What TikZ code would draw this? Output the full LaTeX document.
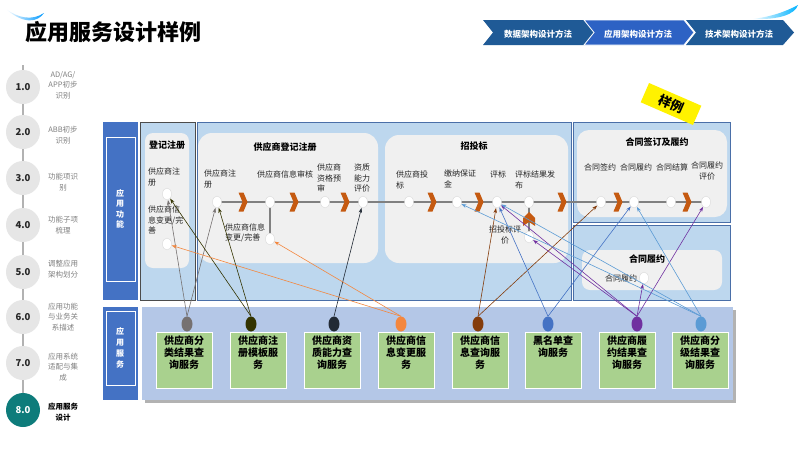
\documentclass[tikz,border=0pt]{standalone}
\usepackage{fontspec}
\setmainfont{Noto Sans CJK SC}
\usetikzlibrary{arrows.meta,shapes.geometric}
\pgfdeclarelayer{back}
\pgfdeclarelayer{mid}
\pgfsetlayers{back,mid,main}
\definecolor{panelblue}{HTML}{BDD7EE}
\definecolor{innergray}{HTML}{F0F0F0}
\definecolor{labelblue}{HTML}{4472C4}
\definecolor{svcbg}{HTML}{B4C7E7}
\definecolor{svcgreen}{HTML}{A9D18E}
\definecolor{chevorange}{HTML}{C55A11}
\definecolor{hdrdark}{HTML}{1F5A96}
\definecolor{hdrmid}{HTML}{2D62C4}
\definecolor{tealc}{HTML}{0E7C7B}
\definecolor{stepgray}{HTML}{E6E6E6}
\definecolor{panelborder}{HTML}{4A6FA8}
\definecolor{cgray}{HTML}{767171}
\definecolor{colive}{HTML}{333300}
\definecolor{cnavy}{HTML}{222A35}
\definecolor{corange}{HTML}{F4873E}
\definecolor{cbrown}{HTML}{843C0C}
\definecolor{cblue}{HTML}{4472C4}
\definecolor{cpurple}{HTML}{7030A0}
\definecolor{clblue}{HTML}{5B9BD5}
\tikzset{
  fnode/.style={ellipse, draw=black!15, fill=white, minimum width=9pt, minimum height=12pt, inner sep=0pt},
  flabel/.style={font=\fontsize{8}{10.5}\selectfont, align=left, inner sep=0pt, text=black!85},
  clabel/.style={font=\fontsize{8}{10.5}\selectfont, align=center, inner sep=0pt, text=black!85},
  phead/.style={font=\bfseries\fontsize{9}{11}\selectfont, inner sep=0pt},
  panelbox/.style={fill=panelblue, draw=panelborder, line width=0.8pt},
  innerbox/.style={fill=innergray},
  svcbox/.style={fill=svcgreen, draw=white, line width=1pt, inner sep=3pt, font=\bfseries\fontsize{10}{12}\selectfont, anchor=north},
  sdot/.style={ellipse, minimum width=11pt, minimum height=15pt, inner sep=0pt},
  conn/.style={-{Stealth[length=5pt,width=3.5pt]}, line width=0.6pt},
  flowline/.style={draw=black!50, line width=1.6pt},
  stepcirc/.style={circle, fill=stepgray, minimum size=34pt, inner sep=0pt, font=\bfseries\fontsize{9.5}{11}\selectfont, text=black!85},
  steplab/.style={font=\fontsize{7.5}{10.5}\selectfont, align=center, text=black!50, inner sep=0pt},
  hdrtext/.style={font=\bfseries\fontsize{8.5}{10}\selectfont, text=white, inner sep=0pt},
  vlabel/.style={font=\bfseries\fontsize{8}{10.5}\selectfont, text=white, align=center, inner sep=0pt},
  chev/.pic={\fill[chevorange] (-4.5,-9.5) -- (0.5,-9.5) -- (4.5,0) -- (0.5,9.5) -- (-4.5,9.5) -- (-0.5,0) -- cycle;}
}
\begin{document}
\begin{tikzpicture}[x=1pt,y=-1pt]
\useasboundingbox (0,0) rectangle (800,450);
\begin{pgfonlayer}{back}
\fill[white] (0,0) rectangle (800,450);
% swooshes
\shade[left color=white, right color=cyan!60!blue] (6,9) .. controls (18,18) and (32,21) .. (44,13) .. controls (38,22) and (24,25) .. (6,9) -- cycle;
\shade[left color=white, right color=cyan!70!blue] (752,19) .. controls (770,17) and (785,12) .. (798,5) .. controls (795,14) and (780,20) .. (752,19) -- cycle;
% header chevrons
\fill[hdrdark] (483,20) -- (584,20) -- (594,32.5) -- (584,45) -- (483,45) -- (493,32.5) -- cycle;
\fill[hdrdark] (686,20) -- (783,20) -- (794,32.5) -- (783,45) -- (686,45) -- (696,32.5) -- cycle;
\filldraw[fill=hdrmid, draw=white, line width=0.8pt] (584,20) -- (684,20) -- (694,32.5) -- (684,45) -- (584,45) -- (594,32.5) -- cycle;
% sidebar line
\draw[black!30, line width=1.5pt] (23,65) -- (23,410);
% left blue label boxes
\fill[labelblue] (103,122) rectangle (138,300);
\draw[white, line width=1pt] (106,137) rectangle (135,281);
\fill[labelblue] (103,307) rectangle (138,400);
\draw[white, line width=1pt] (106,311) rectangle (135,385);
% function panels
\filldraw[fill=panelblue, draw=black!70, line width=0.8pt] (140,122) rectangle (195,300);
\filldraw[panelbox] (197,122) rectangle (571,300);
\filldraw[panelbox] (573,122) rectangle (730,222);
\filldraw[panelbox] (573,225) rectangle (730,300);
\fill[innerbox, rounded corners=8pt] (145,133) rectangle (189,268);
\fill[innerbox, rounded corners=14pt] (198,133) rectangle (378,263);
\fill[innerbox, rounded corners=14pt] (385,135) rectangle (568,263);
\fill[innerbox, rounded corners=12pt] (577,130) rectangle (727,217);
\fill[innerbox, rounded corners=8pt] (582,250) rectangle (722,290);
% service area
\fill[black!30] (145,310) rectangle (736,403);
\fill[svcbg] (142,307) rectangle (733,400);
\end{pgfonlayer}

% title and header texts
\node[font=\bfseries\fontsize{22}{26}\selectfont, inner sep=0pt] (title) at (113,32) {应用服务设计样例};
\node[hdrtext] (h1) at (538,34) {数据架构设计方法};
\node[hdrtext] (h2) at (638,34) {应用架构设计方法};
\node[hdrtext] (h3) at (739,34) {技术架构设计方法};

% sidebar steps
\node[stepcirc] (st1) at (23,87) {1.0};
\node[stepcirc] (st2) at (23,132) {2.0};
\node[stepcirc] (st3) at (23,178) {3.0};
\node[stepcirc] (st4) at (23,225) {4.0};
\node[stepcirc] (st5) at (23,272) {5.0};
\node[stepcirc] (st6) at (23,317) {6.0};
\node[stepcirc] (st7) at (23,363) {7.0};
\node[stepcirc, fill=tealc, text=white] (st8) at (23,410) {8.0};
\node[steplab] (sl1) at (63,85) {AD/AG/\\APP初步\\识别};
\node[steplab] (sl2) at (63,135) {ABB初步\\识别};
\node[steplab] (sl3) at (63,182) {功能项识\\别};
\node[steplab] (sl4) at (63,225) {功能子项\\梳理};
\node[steplab] (sl5) at (63,269) {调整应用\\架构划分};
\node[steplab] (sl6) at (63,317) {应用功能\\与业务关\\系描述};
\node[steplab] (sl7) at (63,367) {应用系统\\适配与集\\成};
\node[steplab, text=black, font=\bfseries\fontsize{7.5}{10.5}\selectfont] (sl8) at (63,412) {应用服务\\设计};

% sticker
\node[fill=yellow, rotate=-23.5, minimum width=57pt, minimum height=21pt, inner sep=0pt, font=\bfseries\fontsize{13}{15}\selectfont] (sample) at (671,104) {样例};

% vertical labels
\node[vlabel] (vf) at (120,209) {应\\用\\功\\能};
\node[vlabel, font=\bfseries\fontsize{8}{11}\selectfont] (vs) at (120,348) {应\\用\\服\\务};

% panel headings
\node[phead] (hd1) at (167,145) {登记注册};
\node[phead] (hd2) at (285,147) {供应商登记注册};
\node[phead] (hd3) at (474,146) {招投标};
\node[phead] (hd4) at (657,142) {合同签订及履约};
\node[phead] (hd5) at (647,259) {合同履约};

% function nodes
\node[fnode] (p1reg) at (167,194) {};
\node[fnode] (p1chg) at (167,244) {};
\node[fnode] (p2reg) at (217,202) {};
\node[fnode] (p2audit) at (270,202) {};
\node[fnode] (p2chg) at (270,239) {};
\node[fnode] (p2pre) at (325,202) {};
\node[fnode] (p2eval) at (363,202) {};
\node[fnode] (p2bid) at (409,202) {};
\node[fnode] (p2dep) at (457,202) {};
\node[fnode] (p2eva) at (497,202) {};
\node[fnode] (p2pub) at (529,202) {};
\node[fnode] (p2bideval) at (529,237) {};
\node[fnode] (c1) at (601,202) {};
\node[fnode] (c2) at (634,202) {};
\node[fnode] (c3) at (671,202) {};
\node[fnode] (c4) at (706,202) {};
\node[fnode] (p4node) at (644,278) {};

% flow line, branches and chevrons
\begin{pgfonlayer}{mid}
\draw[flowline] (p2reg.center) -- (c4.center);
\draw[flowline] (p2audit.center) -- (p2chg.center);
\draw[flowline] (p2pub.center) -- (p2bideval.center);
\pic at (243,202) {chev};
\pic at (294,202) {chev};
\pic at (345,202) {chev};
\pic at (432,202) {chev};
\pic at (479,202) {chev};
\pic at (562,202) {chev};
\pic at (618,202) {chev};
\pic at (687,202) {chev};
\fill[chevorange] (523,226) -- (523,218) -- (529,212) -- (535,218) -- (535,226) -- (529,222) -- cycle;
\end{pgfonlayer}

% function labels
\node[flabel, anchor=north west] (l1) at (148,168) {供应商注\\册};
\node[flabel, anchor=north west] (l2) at (148,206) {供应商信\\息变更/完\\善};
\node[flabel, anchor=north west] (l3) at (204,170) {供应商注\\册};
\node[flabel, anchor=north west] (l4) at (257,170) {供应商信息审核};
\node[flabel, anchor=north west] (l5) at (225,223) {供应商信息\\变更/完善};
\node[flabel, anchor=north west] (l6) at (317,164) {供应商\\资格预\\审};
\node[flabel, anchor=north west] (l7) at (354,164) {资质\\能力\\评价};
\node[flabel, anchor=north west] (l8) at (396,171) {供应商投\\标};
\node[flabel, anchor=north west] (l9) at (444,170) {缴纳保证\\金};
\node[flabel, anchor=north west] (l10) at (490,171) {评标};
\node[flabel, anchor=north west] (l11) at (515,171) {评标结果发\\布};
\node[clabel, anchor=north] (l12) at (505,226) {招投标评\\价};
\node[clabel, anchor=north] (l13) at (600,164) {合同签约};
\node[clabel, anchor=north] (l14) at (636,164) {合同履约};
\node[clabel, anchor=north] (l15) at (672,164) {合同结算};
\node[clabel, anchor=north] (l16) at (707,162) {合同履约\\评价};
\node[clabel] (l17) at (621,278) {合同履约};

% services
\node[svcbox] (s1) at (184,332) {\parbox[t][50pt][t]{50pt}{\centering 供应商分\\类结果查\\询服务}};
\node[svcbox] (s2) at (258,332) {\parbox[t][50pt][t]{50pt}{\centering 供应商注\\册模板服\\务}};
\node[svcbox] (s3) at (332,332) {\parbox[t][50pt][t]{50pt}{\centering 供应商资\\质能力查\\询服务}};
\node[svcbox] (s4) at (406,332) {\parbox[t][50pt][t]{50pt}{\centering 供应商信\\息变更服\\务}};
\node[svcbox] (s5) at (480,332) {\parbox[t][50pt][t]{50pt}{\centering 供应商信\\息查询服\\务}};
\node[svcbox] (s6) at (553,332) {\parbox[t][50pt][t]{50pt}{\centering 黑名单查\\询服务}};
\node[svcbox] (s7) at (627,332) {\parbox[t][50pt][t]{50pt}{\centering 供应商履\\约结果查\\询服务}};
\node[svcbox] (s8) at (700,332) {\parbox[t][50pt][t]{50pt}{\centering 供应商分\\级结果查\\询服务}};

\node[sdot, fill=cgray] (d1) at (187,324) {};
\node[sdot, fill=colive] (d2) at (251,324) {};
\node[sdot, fill=cnavy] (d3) at (334,324) {};
\node[sdot, fill=corange] (d4) at (401,324) {};
\node[sdot, fill=cbrown] (d5) at (478,324) {};
\node[sdot, fill=cblue] (d6) at (548,324) {};
\node[sdot, fill=cpurple] (d7) at (637,324) {};
\node[sdot, fill=clblue] (d8) at (701,324) {};

% connectors
\draw[conn, cgray] (d1.north) -- (p1reg);
\draw[conn, cgray] (d1.north) -- (p2reg);
\draw[conn, colive] (d2.north) -- (p1reg);
\draw[conn, colive] (d2.north) -- (p2reg);
\draw[conn, cnavy] (d3.north) -- (p2eval);
\draw[conn, corange] (d4.north) -- (p1chg);
\draw[conn, corange] (d4.north) -- (p2chg);
\draw[conn, cbrown] (d5.north) -- (p2eva);
\draw[conn, cbrown] (d5.north) -- (c1);
\draw[conn, cblue] (d6.north) -- (p2eva);
\draw[conn, cblue] (d6.north) -- (c2);
\draw[conn, cpurple] (d7.north) -- (p2eva);
\draw[conn, cpurple] (d7.north) -- (p2bideval);
\draw[conn, cpurple] (d7.north) -- (c4);
\draw[conn, cpurple] (d7.north) -- (p4node);
\draw[conn, clblue] (d8.north) -- (p2dep);
\draw[conn, clblue] (d8.north) -- (p2eva);
\draw[conn, clblue] (d8.north) -- (c2);
\end{tikzpicture}
\end{document}
